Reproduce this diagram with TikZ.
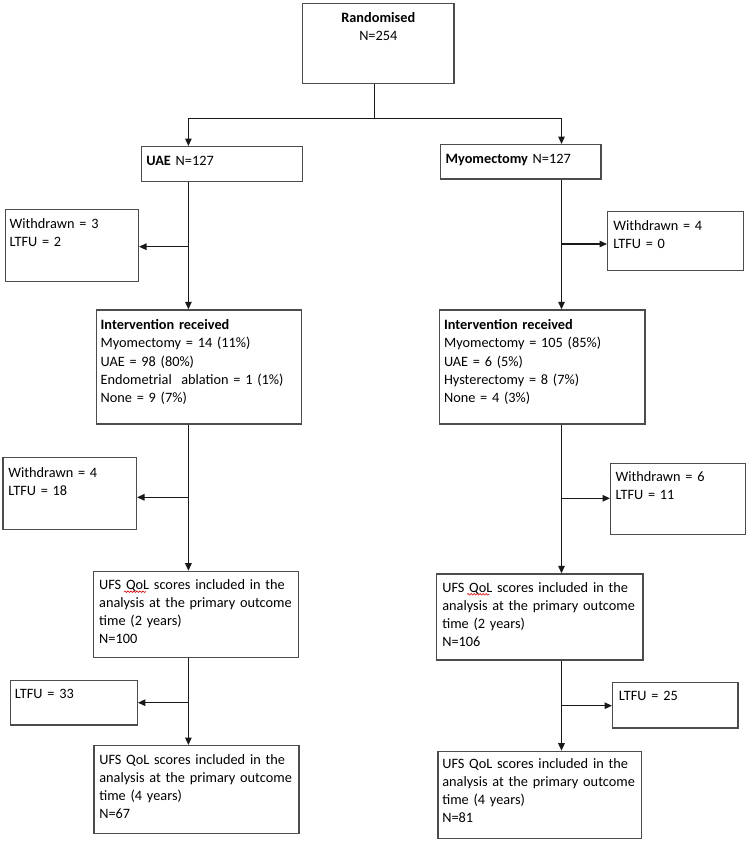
\documentclass[tikz,border=0pt]{standalone}
\usepackage{fontspec}
\setmainfont{Carlito}
\usetikzlibrary{arrows.meta,decorations.pathmorphing}
\newcommand{\fsz}{\fontsize{14.3}{18.2}\selectfont}
\tikzset{
  bx/.style={draw=black!70, line width=1.3pt, anchor=north west, inner ysep=0pt, align=left, font=\fsz},
  ln/.style={draw=black!90, line width=1.3pt},
  ar/.style={ln, -{Triangle[length=7.5pt,width=6.5pt]}},
  squig/.style={draw=red!85!black, line width=0.6pt, decorate, decoration={snake, amplitude=0.8pt, segment length=3pt}},
}
\begin{document}
\begin{tikzpicture}[x=1pt,y=-1pt]
\useasboundingbox (0,0) rectangle (748,841);
% boxes
\node[bx, align=center, inner xsep=0pt, text width=151.3pt, text height=18.8pt, text depth=61.2pt] (rand) at (302,2.7) {\textbf{Randomised}\\N=254};
\node[bx, inner xsep=5.1pt, text width=151.2pt, text height=19pt, text depth=15.7pt] (uae) at (140.6,146) {\textbf{UAE} N=127};
\node[bx, inner xsep=5pt, text width=150.4pt, text height=18.5pt, text depth=15.8pt] (myo) at (440,144) {\textbf{Myomectomy} N=127};
\node[bx, inner xsep=4.3pt, text width=124.4pt, text height=18.7pt, text depth=53pt] (w1) at (4.7,209) {Withdrawn = 3\\LTFU = 2};
\node[bx, inner xsep=5.7pt, text width=124.3pt, text height=19.3pt, text depth=40pt] (w2) at (607,210.7) {Withdrawn = 4\\LTFU = 0};
\node[bx, inner xsep=4pt, text width=196.7pt, text height=19.7pt, text depth=94.3pt] (int1) at (96,309.3) {\textbf{Intervention received}\\Myomectomy = 14 (11\%)\\UAE = 98 (80\%)\\\mbox{Endometrial\ \ ablation = 1 (1\%)}\\None = 9 (7\%)};
\node[bx, inner xsep=4.7pt, text width=196.2pt, text height=19.7pt, text depth=94.3pt] (int2) at (438.7,309.3) {\textbf{Intervention received}\\Myomectomy = 105 (85\%)\\UAE = 6 (5\%)\\Hysterectomy = 8 (7\%)\\None = 4 (3\%)};
\node[bx, inner xsep=5.4pt, text width=122.6pt, text height=19.8pt, text depth=52.5pt] (w3) at (2.3,456.7) {Withdrawn = 4\\LTFU = 18};
\node[bx, inner xsep=5pt, text width=125pt, text height=18.3pt, text depth=53pt] (w4) at (610,462.7) {Withdrawn = 6\\LTFU = 11};
\node[bx, inner xsep=5.5pt, text width=194pt, text height=18pt, text depth=68pt] (ufs1) at (93,570.7) {\mbox{UFS QoL scores included in the}\\\mbox{analysis at the primary outcome}\\time (2 years)\\N=100};
\node[bx, inner xsep=5.7pt, text width=194.9pt, text height=18.2pt, text depth=67.8pt] (ufs2) at (436,573.3) {\mbox{UFS QoL scores included in the}\\\mbox{analysis at the primary outcome}\\time (2 years)\\N=106};
\node[bx, inner xsep=4.3pt, text width=118pt, text height=18pt, text depth=26.3pt] (l1) at (10,680) {LTFU = 33};
\node[bx, inner xsep=6.3pt, text width=112.7pt, text height=18pt, text depth=27.3pt] (l2) at (612,682) {LTFU = 25};
\node[bx, inner xsep=5.4pt, text width=194.2pt, text height=18.7pt, text depth=69pt] (ufs3) at (93.3,745) {\mbox{UFS QoL scores included in the}\\\mbox{analysis at the primary outcome}\\time (4 years)\\N=67};
\node[bx, inner xsep=4.4pt, text width=194.9pt, text height=16.8pt, text depth=70.2pt] (ufs4) at (437.3,750.7) {\mbox{UFS QoL scores included in the}\\\mbox{analysis at the primary outcome}\\time (4 years)\\N=81};
% spell-check squiggles under "QoL"
\coordinate (q1) at ([shift={(31pt,-21pt)}]ufs1.north west);
\coordinate (q2) at ([shift={(31.2pt,-21pt)}]ufs2.north west);
\draw[squig] (q1) -- ++(22,0);
\draw[squig] (q2) -- ++(22,0);
% spines
\coordinate (xl) at (188.4,0);
\coordinate (xr) at (561.5,0);
\coordinate (j0) at (374.3,118.3);
\draw[ln] (rand.south -| j0) -- (j0);
\draw[ln] (j0 -| xl) -- (j0 -| xr);
\draw[ar] (j0 -| xl) -- (uae.north -| xl);
\draw[ar] (j0 -| xr) -- (myo.north -| xr);
% left column
\draw[ar] (uae.south -| xl) -- (int1.north -| xl);
\coordinate (bl1) at (188.4,246.7);
\draw[ar] (bl1) -- (bl1 -| w1.east);
\draw[ar] (int1.south -| xl) -- (ufs1.north -| xl);
\coordinate (bl2) at (188.4,497.3);
\draw[ar] (bl2) -- (bl2 -| w3.east);
\draw[ar] (ufs1.south -| xl) -- (ufs3.north -| xl);
\coordinate (bl3) at (188.4,702.7);
\draw[ar] (bl3) -- (bl3 -| l1.east);
% right column
\draw[ar] (myo.south -| xr) -- (int2.north -| xr);
\coordinate (br1) at (561.5,244);
\draw[ar] (br1) -- (br1 -| w2.west);
\draw[ar] (int2.south -| xr) -- (ufs2.north -| xr);
\coordinate (br2) at (561.5,498.3);
\draw[ar] (br2) -- (br2 -| w4.west);
\draw[ar] (ufs2.south -| xr) -- (ufs4.north -| xr);
\coordinate (br3) at (561.5,705.7);
\draw[ar] (br3) -- (br3 -| l2.west);
\end{tikzpicture}
\end{document}
